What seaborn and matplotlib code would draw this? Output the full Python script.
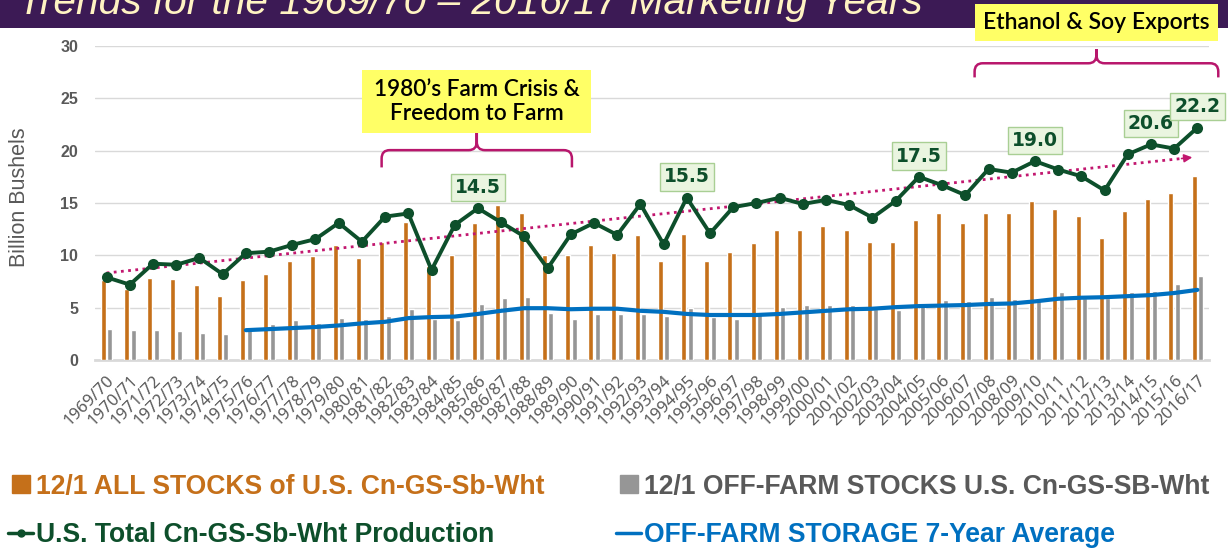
import numpy as np
import pandas as pd
import matplotlib
matplotlib.use("Agg")
import matplotlib.pyplot as plt
import seaborn as sns
from matplotlib.path import Path
from matplotlib.patches import PathPatch, Rectangle
from matplotlib.lines import Line2D

# ---------------- data ----------------
years = ["1969/70", "1970/71", "1971/72", "1972/73", "1973/74", "1974/75", "1975/76", "1976/77",
         "1977/78", "1978/79", "1979/80", "1980/81", "1981/82", "1982/83", "1983/84", "1984/85",
         "1985/86", "1986/87", "1987/88", "1988/89", "1989/90", "1990/91", "1991/92", "1992/93",
         "1993/94", "1994/95", "1995/96", "1996/97", "1997/98", "1998/99", "1999/00", "2000/01",
         "2001/02", "2002/03", "2003/04", "2004/05", "2005/06", "2006/07", "2007/08", "2008/09",
         "2009/10", "2010/11", "2011/12", "2012/13", "2013/14", "2014/15", "2015/16", "2016/17"]

all_stocks = [7.6, 6.75, 7.8, 7.7, 7.2, 6.1, 7.6, 8.2, 9.5, 9.9, 10.95, 9.7,
              11.3, 13.2, 9.0, 10.0, 13.1, 14.85, 14.0, 10.0, 10.0, 11.0, 10.2, 11.9,
              9.5, 12.0, 9.5, 10.3, 11.2, 12.4, 12.4, 12.8, 12.4, 11.25, 11.3, 13.4,
              14.0, 13.1, 14.0, 14.0, 15.2, 14.4, 13.75, 11.7, 14.2, 15.4, 15.95, 17.6]

off_farm = [3.0, 2.85, 2.9, 2.8, 2.6, 2.45, 3.0, 3.45, 3.8, 3.5, 4.0, 3.9,
            4.2, 4.85, 3.95, 3.8, 5.35, 5.9, 6.0, 4.5, 3.95, 4.4, 4.35, 4.35,
            4.2, 4.95, 4.1, 3.95, 4.6, 5.1, 5.3, 5.3, 5.3, 4.9, 4.8, 5.35,
            5.75, 5.6, 6.0, 5.85, 5.95, 6.5, 5.9, 5.9, 6.5, 6.6, 7.25, 8.0]

production = [7.9, 7.2, 9.2, 9.1, 9.75, 8.2, 10.2, 10.35, 11.0, 11.55, 13.1, 11.3,
              13.7, 14.0, 8.6, 12.9, 14.5, 13.15, 11.8, 8.75, 12.0, 13.1, 11.95, 14.9,
              11.05, 15.5, 12.1, 14.6, 15.0, 15.5, 14.9, 15.3, 14.8, 13.6, 15.2, 17.5,
              16.7, 15.75, 18.25, 17.9, 19.0, 18.2, 17.55, 16.2, 19.65, 20.6, 20.2, 22.2]

avg7_years = years[6:]
avg7 = [2.85, 2.95, 3.05, 3.15, 3.3, 3.5,
        3.65, 4.0, 4.1, 4.15, 4.4, 4.7, 4.95, 4.95, 4.85, 4.9, 4.9, 4.7,
        4.6, 4.4, 4.3, 4.3, 4.3, 4.4, 4.55, 4.7, 4.85, 4.9, 5.05, 5.15,
        5.2, 5.25, 5.35, 5.4, 5.6, 5.85, 5.95, 6.0, 6.1, 6.2, 6.4, 6.7]

labeled_years = ["1985/86", "1994/95", "2004/05", "2009/10", "2014/15", "2016/17"]
y_ticks = [0, 5, 10, 15, 20, 25, 30]

legend_labels = ["12/1 ALL STOCKS of U.S. Cn-GS-Sb-Wht",
                 "U.S. Total Cn-GS-Sb-Wht Production",
                 "12/1 OFF-FARM STOCKS U.S. Cn-GS-SB-Wht",
                 "OFF-FARM STORAGE 7-Year Average"]

# ---------------- style ----------------
ORANGE = "#C5701A"
GRAY = "#969696"
GREEN = "#0D4F2B"
BLUE = "#0070C0"
MAGENTA = "#C2176F"
BRACE = "#B8166C"
YELLOW = "#FFFF66"
PURPLE = "#3C1A55"
TXTGRAY = "#595959"

sns.set_theme(style="white")
plt.rcParams["font.family"] = ["Liberation Sans", "DejaVu Sans"]

W, H = 1228, 550
fig = plt.figure(figsize=(W / 100, H / 100), dpi=100)
ax = fig.add_axes([95 / W, 1 - 360 / H, (1209 - 95) / W, (360 - 46) / H])

n = len(years)
idx = np.arange(n)

df = pd.DataFrame({
    "year": years * 2,
    "value": all_stocks + off_farm,
    "series": ["all"] * n + ["off"] * n,
})
sns.barplot(data=df, x="year", y="value", hue="series", hue_order=["all", "off"],
            palette=[ORANGE, GRAY], width=0.56, gap=0.23, saturation=1,
            errorbar=None, legend=False, ax=ax, zorder=2)

# trend line of production
coef = np.polyfit(idx, production, 1)
tx = np.array([0, 46.3])
ax.plot(tx, np.polyval(coef, tx), color=MAGENTA, lw=2, ls=(0, (1, 1.6)), zorder=3)
ax.annotate("", xy=(46.9, np.polyval(coef, 46.9)), xytext=(46.2, np.polyval(coef, 46.2)),
            arrowprops=dict(arrowstyle="-|>", color=MAGENTA, lw=1.2, mutation_scale=12),
            zorder=3)

avg_idx = [years.index(y) for y in avg7_years]
sns.lineplot(x=avg_idx, y=avg7, color=BLUE, lw=3, ax=ax, zorder=4)
sns.lineplot(x=idx, y=production, color=GREEN, lw=2.8, marker="o", markersize=8,
             markeredgewidth=0, ax=ax, zorder=5)

# data labels
for yr in labeled_years:
    i = years.index(yr)
    v = production[i]
    ax.annotate(f"{v:.1f}", (i, v), xytext=(0, 15), textcoords="offset points",
                ha="center", va="center", fontsize=13.5, fontweight="bold", color=GREEN,
                family=["DejaVu Sans"],
                bbox=dict(boxstyle="square,pad=0.22", fc="#EAF5E0", ec="#A9CF94", lw=1),
                zorder=6)

# axes cosmetics
ax.set_xlim(-0.5, n - 0.5)
ax.set_ylim(0, 30)
ax.set_yticks(y_ticks)
ax.yaxis.grid(True, color="#D9D9D9", lw=1)
ax.xaxis.grid(False)
ax.set_axisbelow(True)
for s in ["top", "right", "left"]:
    ax.spines[s].set_visible(False)
ax.spines["bottom"].set_color("#D9D9D9")
ax.spines["bottom"].set_linewidth(2)
ax.spines["bottom"].set_zorder(1)
ax.tick_params(axis="y", length=0, pad=12, labelsize=11.5, labelcolor=TXTGRAY)
for t in ax.get_yticklabels():
    t.set_fontweight("bold")
ax.set_xticks(idx)
ax.set_xticklabels(years, rotation=45, ha="right", rotation_mode="anchor",
                   fontsize=12, color=TXTGRAY, family=["Noto Sans", "DejaVu Sans"])
ax.tick_params(axis="x", length=0, pad=9)
ax.set_xlabel("")
ax.set_ylabel("Billion Bushels", fontsize=15.5, color=TXTGRAY)
ax.yaxis.set_label_coords(-0.058, 0.52)


# braces
def brace(x0, x1, xm, y_end, y_h, y_tip, rx=0.35, ry=0.8):
    verts = [(x0, y_end), (x0, y_h - ry), (x0, y_h), (x0 + rx, y_h),
             (xm - rx, y_h), (xm, y_h), (xm, y_h + ry), (xm, y_tip),
             (xm, y_tip), (xm, y_h + ry), (xm, y_h), (xm + rx, y_h),
             (x1 - rx, y_h), (x1, y_h), (x1, y_h - ry), (x1, y_end)]
    codes = [Path.MOVETO, Path.LINETO, Path.CURVE3, Path.CURVE3,
             Path.LINETO, Path.CURVE3, Path.CURVE3, Path.LINETO,
             Path.MOVETO, Path.LINETO, Path.CURVE3, Path.CURVE3,
             Path.LINETO, Path.CURVE3, Path.CURVE3, Path.LINETO]
    ax.add_patch(PathPatch(Path(verts, codes), fc="none", ec=BRACE, lw=1.8,
                           clip_on=False, zorder=6))


brace(11.85, 20.05, 15.95, 18.4, 20.05, 21.7)
brace(37.4, 47.9, 42.65, 27.0, 28.35, 29.7)


# annotation boxes (figure pixel coords)
def fig_box(x0, y0, x1, y1, text, fs):
    fig.patches.append(Rectangle((x0 / W, 1 - y1 / H), (x1 - x0) / W, (y1 - y0) / H,
                                 transform=fig.transFigure, fc=YELLOW, ec="none", zorder=7))
    fig.text((x0 + x1) / 2 / W, 1 - (y0 + y1) / 2 / H, text, ha="center", va="center",
             fontsize=fs, color="black", family=["Lato", "DejaVu Sans"],
             fontweight="semibold", linespacing=1.2, zorder=8)


# title band
fig.patches.append(Rectangle((0, 1 - 27.5 / H), 1, 27.5 / H, transform=fig.transFigure,
                             fc=PURPLE, ec="none", zorder=0))
title = fig.text(18 / W, 1 - 14 / H, "Trends for the 1969/70 \u2013 2016/17 Marketing Years",
                 ha="left", va="baseline", fontsize=30, style="italic", color="#FFF3C2",
                 family=["Liberation Sans", "DejaVu Sans"], zorder=1)
fig.canvas.draw()
tw = title.get_window_extent().width
title.set_fontsize(30 * 904 / tw)

fig_box(362, 70, 591, 133, "1980\u2019s Farm Crisis &\nFreedom to Farm", 16.3)
fig_box(975, 4, 1218, 41, "Ethanol & Soy Exports", 16.5)

# legend
h_all = Line2D([], [], marker="s", ms=13, color=ORANGE, ls="none")
h_off = Line2D([], [], marker="s", ms=13, color=GRAY, ls="none")
h_prod = Line2D([], [], color=GREEN, lw=2.5, marker="o", ms=5)
h_avg = Line2D([], [], color=BLUE, lw=2.5)
leg_kw = dict(loc="center left", frameon=False, handlelength=0.95,
              prop=dict(size=19.1, weight="bold"),
              handletextpad=0.12, labelspacing=0.85, borderpad=0, borderaxespad=0)
leg1 = fig.legend([h_all, h_prod], legend_labels[:2], bbox_to_anchor=(8 / W, 1 - 511 / H), **leg_kw)
leg2 = fig.legend([h_off, h_avg], legend_labels[2:], bbox_to_anchor=(616 / W, 1 - 511 / H), **leg_kw)
for t, c in zip(leg1.get_texts(), [ORANGE, GREEN]):
    t.set_color(c)
for t, c in zip(leg2.get_texts(), [TXTGRAY, BLUE]):
    t.set_color(c)

fig.savefig("out.png", dpi=100)
